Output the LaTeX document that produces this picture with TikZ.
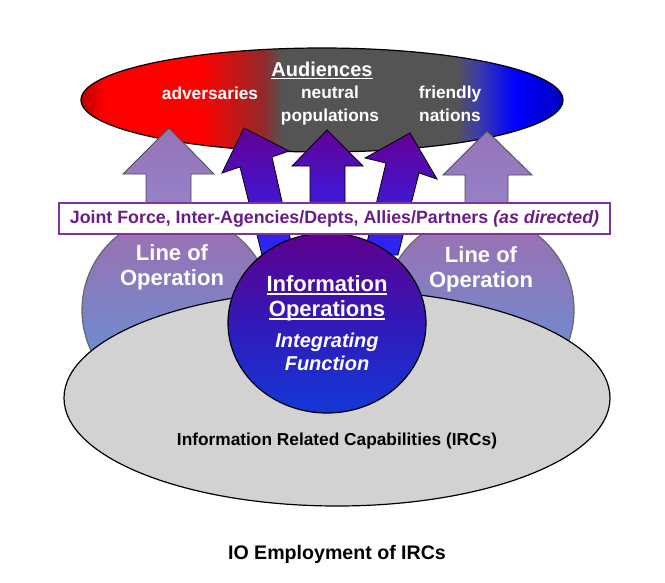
\documentclass[tikz,border=0pt]{standalone}
\usepackage{fontspec}
\setmainfont{Liberation Sans}
\usepackage{tikz}
\usetikzlibrary{shapes.geometric}
\definecolor{audA}{RGB}{190,0,0}
\definecolor{audR}{RGB}{255,0,0}
\definecolor{audB}{RGB}{150,40,40}
\definecolor{audG}{RGB}{84,84,84}
\definecolor{audC}{RGB}{60,60,170}
\definecolor{audU}{RGB}{0,0,255}
\definecolor{audD}{RGB}{0,0,190}
\definecolor{lopTop}{RGB}{160,110,175}
\definecolor{lopBot}{RGB}{90,150,220}
\definecolor{ioTop}{RGB}{95,0,140}
\definecolor{ioMid}{RGB}{50,25,185}
\definecolor{ioBot}{RGB}{20,55,215}
\definecolor{arrTop}{RGB}{100,0,150}
\definecolor{arrBot}{RGB}{40,40,250}
\definecolor{litTop}{RGB}{150,115,185}
\definecolor{litBot}{RGB}{150,135,205}
\definecolor{ircGray}{RGB}{210,210,210}
\definecolor{jfLine}{RGB}{130,50,160}
\definecolor{jfText}{RGB}{105,30,135}
\pgfdeclarehorizontalshading{audshade}{100bp}{color(0bp)=(audA); color(25bp)=(audA); color(27.5bp)=(audR); color(37.3bp)=(audR); color(43.8bp)=(audB); color(45.9bp)=(audG); color(63.9bp)=(audG); color(66.2bp)=(audC); color(70bp)=(audU); color(75bp)=(audD); color(100bp)=(audD)}
\newcommand{\sz}[2]{\fontsize{#1}{#2}\selectfont}
\newcommand{\ulin}[1]{\leavevmode\setbox0\hbox{#1}\rlap{\rule[-0.16em]{\wd0}{0.07em}}\box0}

\begin{document}
\begin{tikzpicture}[x=1pt,y=-1pt,
    wtxt/.style={text=white,align=center,inner sep=0pt},
    audtxt/.style={wtxt,font=\sz{17.3}{23}\bfseries},
    loptxt/.style={wtxt,font=\sz{22}{25}\bfseries},
    oval/.style={ellipse,draw=black,line width=1.2pt,inner sep=0pt},
    lop/.style={oval,draw=black!60,top color=lopTop,bottom color=lopBot,minimum width=190pt,minimum height=190pt},
    litarrow/.style={draw=black!70,line width=0.8pt,top color=litTop,bottom color=litBot},
    iodarrow/.style={draw=black,line width=0.8pt,top color=arrTop,bottom color=arrBot}]
    \useasboundingbox (0,0) rectangle (665,582);
    \node[oval,shade,shading=audshade,minimum width=482pt,minimum height=104pt] (AUD) at (322,100) {};
    \node[wtxt,font=\sz{20}{22}\bfseries,anchor=base] (AT) at (322,76) {\ulin{Audiences}};
    \node[audtxt,anchor=base] (ADV) at (210,99) {adversaries};
    \node[audtxt] (NEU) at (330,106) {neutral\\populations};
    \node[audtxt] (FRI) at (450,104) {friendly\\nations};
    %\path (LL) edge (AUD);
    \path[litarrow] (169,128) -- (214,174) -- (191,174) -- (191,232) -- (146,232) -- (146,174) -- (123,174) -- cycle;
    \path[litarrow] (487,131) -- (532,175) -- (508,175) -- (508,232) -- (465,232) -- (465,175) -- (443,175) -- cycle;
    \path[iodarrow] (244,128) -- (289,151) -- (272,157) -- (294,255) -- (262,255) -- (240,167) -- (222,173) -- cycle;
    \path[iodarrow] (327,130) -- (363,166) -- (345,166) -- (345,236) -- (310,236) -- (310,166) -- (292,166) -- cycle;
    \path[iodarrow] (410,133) -- (437,179) -- (419,173) -- (398,255) -- (364,255) -- (386,163) -- (365,158) -- cycle;
    \node[lop] (LL) at (177,310) {};
    \node[lop] (LR) at (479,310) {};
    \node[loptxt] (TL) at (172,267) {Line of\\Operation};
    \node[loptxt] (TR) at (481,269) {Line of\\Operation};
    \node[oval,fill=ircGray,minimum width=546pt,minimum height=216pt] (IRC) at (337,398) {};
    \node[font=\sz{17.3}{20}\bfseries,anchor=base] (IRCT) at (337,445) {Information Related Capabilities (IRCs)};
    \node[oval,top color=ioTop,bottom color=ioBot,middle color=ioMid,minimum width=198pt,minimum height=180pt] (IO) at (327,323) {};
    \node[wtxt,font=\sz{22}{25}\bfseries] (IOT) at (327,298) {\ulin{Information}\\\ulin{Operations}};
    \node[wtxt,font=\sz{20}{23}\bfseries\itshape] (IOF) at (327,352) {Integrating\\Function};
    \node[draw=jfLine,line width=1.3pt,fill=white,text=jfText,font=\sz{17.8}{20}\bfseries,minimum width=551pt,minimum height=31pt,inner sep=0pt] (JF) at (334.5,218.5) {Joint Force, Inter-Agencies/Depts, Allies/Partners \textit{(as directed)}};
    \node[font=\sz{19.6}{22}\bfseries,anchor=base] (CAP) at (337,559) {IO Employment of IRCs};
  \end{tikzpicture}
\end{document}
